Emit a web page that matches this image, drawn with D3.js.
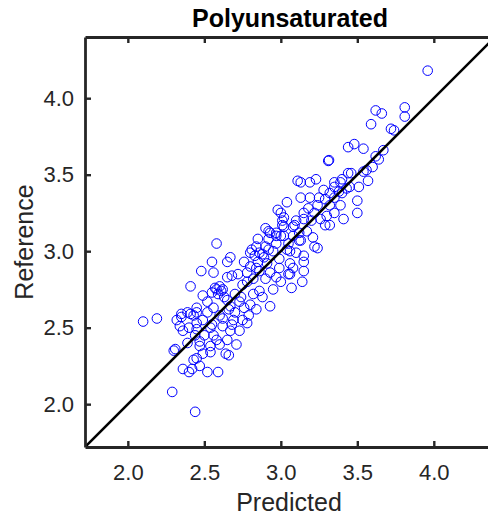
<!DOCTYPE html>
<html>
<head>
<meta charset="utf-8">
<script src="https://cdn.jsdelivr.net/npm/d3@7"></script>
<style>
  html, body { margin: 0; padding: 0; background: #fff; overflow: hidden; }
  text { font-family: "Liberation Sans", Arial, Helvetica, sans-serif; }
</style>
</head>
<body>
<div id="chart"></div>
<script>
// ---- data ----
const title = "Polyunsaturated";
const xLabel = "Predicted";
const yLabel = "Reference";
const xTicks = [2.0, 2.5, 3.0, 3.5, 4.0];
const yTicks = [2.0, 2.5, 3.0, 3.5, 4.0];
const axisMin = 1.72, axisMax = 4.40;

const predicted = [
 3.96,3.62,3.66,3.81,3.81,3.59,3.72,3.74,3.44,3.48,3.54,3.67,3.64,3.31,3.315,3.56,3.54,3.46,3.57,3.40,
 3.35,3.51,3.13,3.19,3.23,3.39,3.35,3.32,3.38,3.43,3.50,3.50,3.41,3.13,3.19,3.04,2.98,3.24,3.29,3.32,
 3.39,3.35,3.30,3.26,3.02,3.15,3.20,3.29,3.32,3.08,3.01,2.92,2.97,3.02,3.12,3.17,3.21,3.24,3.13,2.84,
 2.90,3.04,3.10,3.15,2.83,2.89,2.99,3.06,2.84,2.99,3.08,3.15,2.93,3.05,2.58,2.67,2.65,2.55,2.48,2.56,
 2.41,2.65,2.68,2.76,2.80,2.92,2.97,3.02,3.09,3.00,3.12,3.06,2.91,2.86,2.78,2.82,2.90,2.97,3.06,3.14,
 3.07,2.58,2.61,2.55,2.49,2.52,2.65,2.73,2.82,2.86,2.93,2.84,2.76,2.67,2.56,2.45,2.39,2.35,2.43,2.49,
 2.60,2.69,2.79,2.78,2.62,2.54,2.45,2.36,2.67,2.73,2.65,2.56,2.47,2.39,2.60,2.71,2.54,2.10,2.19,2.32,
 2.35,2.34,2.41,2.45,2.45,2.30,2.31,2.36,2.42,2.40,2.47,2.52,2.59,2.45,2.43,2.49,2.54,2.47,2.64,2.66,
 2.29,2.44,3.11,3.01,2.93,2.81,2.86,2.92,3.22,3.15,3.44,
 2.57,2.60,2.62,2.59,2.63,2.70,2.75,2.78,2.72,2.80,2.85,2.88,2.95,2.97,3.05,3.08,3.10,3.15,3.18,3.22,
 3.25,3.28,2.70,2.75,2.80,2.88,2.95,3.00,2.50,2.55,2.62,2.68,2.58,2.52,2.40,2.44,2.90,2.85,3.00,3.35,
 3.40,3.45,3.60,3.62,2.66,2.74
];
const reference = [
 4.18,3.92,3.90,3.94,3.88,3.83,3.80,3.79,3.68,3.70,3.67,3.66,3.60,3.59,3.595,3.53,3.52,3.51,3.46,3.47,
 3.45,3.42,3.45,3.45,3.47,3.45,3.42,3.38,3.39,3.41,3.33,3.25,3.21,3.35,3.35,3.32,3.27,3.30,3.34,3.30,
 3.30,3.25,3.23,3.21,3.22,3.21,3.20,3.17,3.17,3.16,3.17,3.13,3.10,3.10,3.12,3.13,3.09,3.02,3.07,3.03,
 3.03,3.01,2.99,2.97,2.97,2.96,2.95,2.92,2.89,2.89,2.89,2.87,2.86,2.85,3.05,2.96,2.93,2.93,2.87,2.86,
 2.77,2.83,2.84,2.93,2.99,3.08,3.12,3.16,3.17,3.10,3.07,3.00,2.92,2.87,2.86,2.82,2.82,2.83,2.85,2.80,
 2.76,2.75,2.74,2.73,2.71,2.67,2.68,2.67,2.72,2.74,2.64,2.62,2.63,2.64,2.63,2.63,2.60,2.57,2.58,2.55,
 2.58,2.55,2.58,2.53,2.51,2.50,2.49,2.48,2.48,2.48,2.42,2.45,2.41,2.40,2.39,2.39,2.38,2.54,2.56,2.55,
 2.59,2.51,2.59,2.60,2.53,2.35,2.36,2.23,2.23,2.21,2.25,2.21,2.21,2.30,2.29,2.33,2.34,2.38,2.33,2.32,
 2.08,1.95,3.46,3.20,3.12,3.01,2.99,3.01,3.03,2.93,3.51,
 2.76,2.77,2.75,2.72,2.70,2.72,2.78,2.80,2.85,2.90,2.93,2.98,3.00,3.05,3.05,3.10,3.20,3.25,3.28,3.25,
 3.35,3.40,2.60,2.55,2.65,2.70,2.75,2.80,2.45,2.52,2.56,2.52,2.42,2.60,2.50,2.45,3.15,3.08,3.25,3.35,
 3.38,3.42,3.55,3.62,2.62,2.70
];
const points = predicted.map((p, i) => ({ x: p, y: reference[i] }));

// ---- layout ----
const W = 488, H = 521;
const mLeft = 85, mTop = 37, plotSize = 410;
const axisColor = "#262626";

const svg = d3.select("#chart").append("svg")
  .attr("width", W).attr("height", H);

const x = d3.scaleLinear().domain([axisMin, axisMax]).range([mLeft, mLeft + plotSize]);
const y = d3.scaleLinear().domain([axisMin, axisMax]).range([mTop + plotSize, mTop]);

svg.append("clipPath").attr("id", "plotclip")
  .append("rect").attr("x", mLeft).attr("y", mTop).attr("width", plotSize).attr("height", plotSize);

const plot = svg.append("g").attr("clip-path", "url(#plotclip)");

plot.selectAll("circle.pt").data(points).enter().append("circle")
  .attr("class", "pt")
  .attr("cx", d => x(d.x))
  .attr("cy", d => y(d.y))
  .attr("r", 4.8)
  .attr("fill", "none")
  .attr("stroke", "#0000ff")
  .attr("stroke-width", 1);

plot.append("line")
  .attr("x1", x(axisMin)).attr("y1", y(axisMin))
  .attr("x2", x(axisMax)).attr("y2", y(axisMax))
  .attr("stroke", "#000").attr("stroke-width", 2.6);

// axes
const fmt = d3.format(".1f");
const gx = svg.append("g").attr("transform", `translate(0,${mTop + plotSize})`)
  .call(d3.axisBottom(x).tickValues(xTicks).tickFormat(fmt).tickSizeInner(-6).tickSizeOuter(0).tickPadding(17));
const gxTop = svg.append("g").attr("transform", `translate(0,${mTop})`)
  .call(d3.axisTop(x).tickValues(xTicks).tickFormat("").tickSizeInner(-6).tickSizeOuter(0));
const gy = svg.append("g").attr("transform", `translate(${mLeft},0)`)
  .call(d3.axisLeft(y).tickValues(yTicks).tickFormat(fmt).tickSizeInner(-6).tickSizeOuter(0).tickPadding(11));
const gyRight = svg.append("g").attr("transform", `translate(${mLeft + plotSize},0)`)
  .call(d3.axisRight(y).tickValues(yTicks).tickFormat("").tickSizeInner(-6).tickSizeOuter(0));

[gx, gxTop, gy, gyRight].forEach(g => {
  g.select(".domain").attr("stroke", axisColor).attr("stroke-width", 2.8);
  g.selectAll(".tick line").attr("stroke", axisColor).attr("stroke-width", 2.4);
  g.selectAll(".tick text").attr("fill", axisColor).attr("font-size", 22)
    .attr("font-family", "'Liberation Sans', Arial, Helvetica, sans-serif");
});

// title & labels
svg.append("text").attr("x", mLeft + plotSize / 2).attr("y", 27)
  .attr("text-anchor", "middle").attr("font-size", 25).attr("font-weight", "bold")
  .attr("fill", "#000").text(title);

svg.append("text").attr("x", mLeft + plotSize / 2 - 1).attr("y", 511)
  .attr("text-anchor", "middle").attr("font-size", 25)
  .attr("fill", axisColor).text(xLabel);

svg.append("text")
  .attr("transform", `translate(33,${mTop + plotSize / 2}) rotate(-90)`)
  .attr("text-anchor", "middle").attr("font-size", 25)
  .attr("fill", axisColor).text(yLabel);
</script>
</body>
</html>
